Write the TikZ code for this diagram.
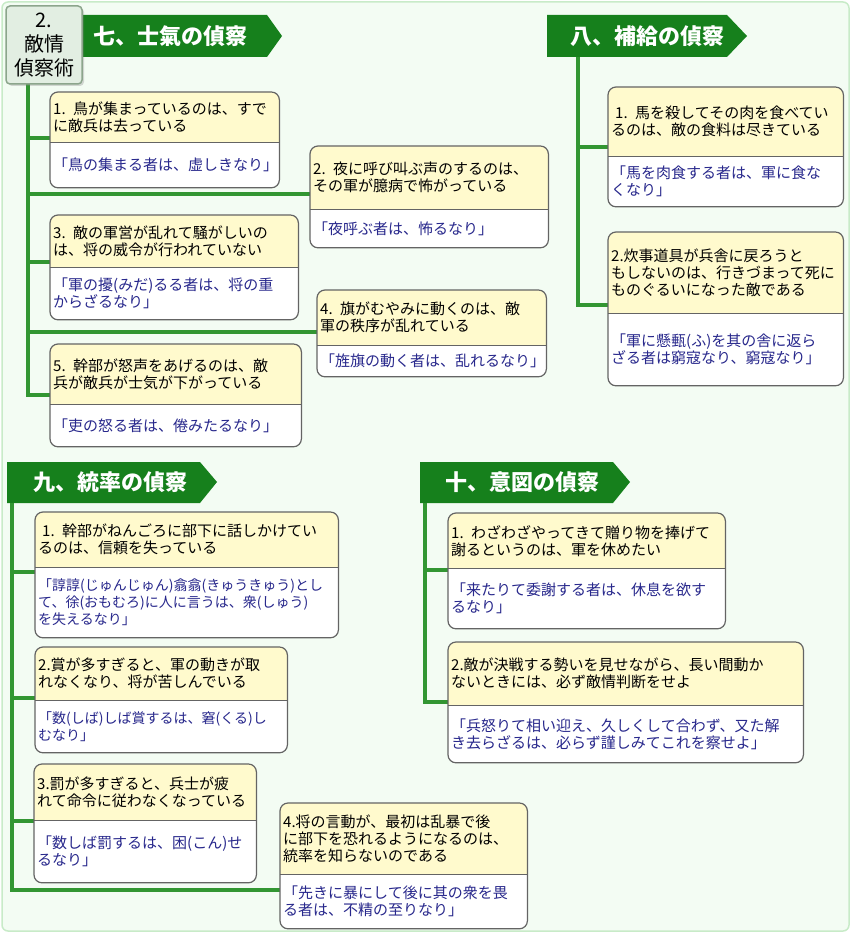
\documentclass[tikz,border=0pt]{standalone}
\usepackage{fontspec}
\newfontfamily\jp{Noto Sans CJK JP}
\usetikzlibrary{positioning,backgrounds,shadows}

\definecolor{pagebg}{RGB}{243,252,243}
\definecolor{pageedge}{RGB}{200,235,200}
\definecolor{bannergreen}{RGB}{22,128,28}
\definecolor{trunkgreen}{RGB}{50,150,50}
\definecolor{cellyellow}{RGB}{255,250,205}
\definecolor{quoteblue}{RGB}{40,40,140}
\definecolor{boxgray}{RGB}{100,100,100}
\definecolor{titlefill}{RGB}{226,238,226}
\definecolor{titleedge}{RGB}{140,165,140}

\tikzset{
  topcell/.style={anchor=north west, inner xsep=3pt, inner ysep=0pt, align=left, text=black, font=\jp\fontsize{15}{17}\selectfont},
  botcell/.style={inner xsep=3pt, inner ysep=0pt, align=left, text=quoteblue, font=\jp\fontsize{15}{17}\selectfont},
  boxline/.style={draw=boxgray, line width=1.2pt, rounded corners=8pt},
  sepline/.style={draw=boxgray, line width=0.9pt},
  trunk/.style={draw=trunkgreen, line width=4pt},
  bannerbg/.style={fill=bannergreen},
  bannertext/.style={anchor=west, inner sep=0pt, text=white, font=\jp\bfseries\fontsize{22}{24}\selectfont},
  titlebox/.style={draw=titleedge, fill=titlefill, line width=1.5pt, rounded corners=4pt, minimum width=76pt, minimum height=78pt, inner sep=0pt, align=center, font=\jp\fontsize{20}{24}\selectfont, drop shadow={shadow xshift=2pt, shadow yshift=-2pt, opacity=0.3}}
}

\begin{document}
\begin{tikzpicture}[x=1pt, y=-1pt]
\useasboundingbox (0,0) rectangle (851,933);

% headings
\node[bannertext] (b7) at (93,36) {七、士氣の偵察};
\node[bannertext] (b8) at (570,36) {八、補給の偵察};
\node[bannertext] (b9) at (33,482) {九、統率の偵察};
\node[bannertext] (b10) at (445,482) {十、意図の偵察};
\node[titlebox] (hdr) at (44,45) {2.\\敵情\\偵察術};

% 七
\node[topcell, minimum width=229pt, text width=223pt, minimum height=50pt] (n71) at (50,92) {1. 鳥が集まっているのは、すで\\に敵兵は去っている};
\node[botcell, minimum width=229pt, text width=223pt, minimum height=45pt, below=0pt of n71] (q71) {「鳥の集まる者は、虚しきなり」};
\node[topcell, minimum width=238pt, text width=232pt, minimum height=63pt] (n72) at (310,146) {2. 夜に呼び叫ぶ声のするのは、\\その軍が臆病で怖がっている};
\node[botcell, minimum width=238pt, text width=232pt, minimum height=38pt, below=0pt of n72] (q72) {「夜呼ぶ者は、怖るなり」};
\node[topcell, minimum width=248pt, text width=242pt, minimum height=52pt] (n73) at (50,215) {3. 敵の軍営が乱れて騒がしいの\\は、将の威令が行われていない};
\node[botcell, minimum width=248pt, text width=242pt, minimum height=52pt, below=0pt of n73] (q73) {「軍の擾(みだ)るる者は、将の重\\からざるなり」};
\node[topcell, minimum width=229pt, text width=223pt, minimum height=55pt] (n74) at (317,290) {4. 旗がむやみに動くのは、敵\\軍の秩序が乱れている};
\node[botcell, minimum width=229pt, text width=223pt, minimum height=31pt, below=0pt of n74] (q74) {「旌旗の動く者は、乱れるなり」};
\node[topcell, minimum width=251pt, text width=245pt, minimum height=60pt] (n75) at (50,344) {5. 幹部が怒声をあげるのは、敵\\兵が敵兵が士気が下がっている};
\node[botcell, minimum width=251pt, text width=245pt, minimum height=42pt, below=0pt of n75] (q75) {「吏の怒る者は、倦みたるなり」};

% 八
\node[topcell, minimum width=235pt, text width=229pt, minimum height=69pt] (n81) at (608,87) {\hspace*{4pt}1. 馬を殺してその肉を食べてい\\るのは、敵の食料は尽きている};
\node[botcell, minimum width=235pt, text width=229pt, minimum height=50pt, below=0pt of n81] (q81) {「馬を肉食する者は、軍に食な\\くなり」};
\node[topcell, minimum width=235pt, text width=229pt, minimum height=81pt] (n82) at (608,232) {2.炊事道具が兵舎に戻ろうと\\もしないのは、行きづまって死に\\ものぐるいになった敵である};
\node[botcell, minimum width=235pt, text width=229pt, minimum height=72pt, below=0pt of n82] (q82) {「軍に懸甀(ふ)を其の舎に返ら\\ざる者は窮寇なり、窮寇なり」};

% 九
\node[topcell, minimum width=303pt, text width=297pt, minimum height=55pt] (n91) at (35,512) {\hspace*{4pt}1. 幹部がねんごろに部下に話しかけてい\\るのは、信頼を失っている};
\node[botcell, minimum width=303pt, text width=297pt, minimum height=70pt, below=0pt of n91, font=\jp\fontsize{14}{17}\selectfont] (q91) {「諄諄(じゅんじゅん)翕翕(きゅうきゅう)とし\\て、徐(おもむろ)に人に言うは、衆(しゅう)\\を失えるなり」};
\node[topcell, minimum width=252pt, text width=246pt, minimum height=53pt] (n92) at (35,647) {2.賞が多すぎると、軍の動きが取\\れなくなり、将が苦しんでいる};
\node[botcell, minimum width=252pt, text width=246pt, minimum height=52pt, below=0pt of n92, font=\jp\fontsize{14}{17}\selectfont] (q92) {「数(しば)しば賞するは、窘(くる)し\\むなり」};
\node[topcell, minimum width=222pt, text width=216pt, minimum height=56pt] (n93) at (34,764) {3.罰が多すぎると、兵士が疲\\れて命令に従わなくなっている};
\node[botcell, minimum width=222pt, text width=216pt, minimum height=62pt, below=0pt of n93] (q93) {「数しば罰するは、困(こん)せ\\るなり」};
\node[topcell, minimum width=247pt, text width=241pt, minimum height=71pt] (n94) at (280,803) {4.将の言動が、最初は乱暴で後\\に部下を恐れるようになるのは、\\統率を知らないのである};
\node[botcell, minimum width=247pt, text width=241pt, minimum height=54pt, below=0pt of n94] (q94) {「先きに暴にして後に其の衆を畏\\る者は、不精の至りなり」};

% 十
\node[topcell, minimum width=277pt, text width=271pt, minimum height=55pt] (n101) at (448,513) {1. わざわざやってきて贈り物を捧げて\\謝るというのは、軍を休めたい};
\node[botcell, minimum width=277pt, text width=271pt, minimum height=60pt, below=0pt of n101] (q101) {「来たりて委謝する者は、休息を欲す\\るなり」};
\node[topcell, minimum width=355pt, text width=349pt, minimum height=63pt] (n102) at (448,642) {2.敵が決戦する勢いを見せながら、長い間動か\\ないときには、必ず敵情判断をせよ};
\node[botcell, minimum width=355pt, text width=349pt, minimum height=57pt, below=0pt of n102] (q102) {「兵怒りて相い迎え、久しくして合わず、又た解\\き去らざるは、必らず謹しみてこれを察せよ」};

\coordinate (t7) at (28,84);
\coordinate (t8) at (578,57);
\coordinate (t9) at (12,503);
\coordinate (t10) at (425,503);

\begin{scope}[on background layer]
\path[fill=pagebg, draw=pageedge, line width=1.5pt, rounded corners=6pt] (2,2) rectangle (849,931);
\fill[bannerbg] (68,15) -- (267,15) -- (282,36) -- (267,57) -- (68,57) -- cycle;
\fill[bannerbg] (547,15) -- (727,15) -- (747,36) -- (727,57) -- (547,57) -- cycle;
\fill[bannerbg] (7,462) -- (200,462) -- (217,482) -- (200,503) -- (7,503) -- cycle;
\fill[bannerbg] (420,462) -- (613,462) -- (630,482) -- (613,503) -- (420,503) -- cycle;

\draw[trunk] (t7) |- (n71.west |- 0,138);
\draw[trunk] (t7) |- (n72.west |- 0,194);
\draw[trunk] (t7) |- (n73.west |- 0,262);
\draw[trunk] (t7) |- (n74.west |- 0,332);
\draw[trunk] (t7) |- (n75.west |- 0,395);
\draw[trunk] (t8) |- (n81.west |- 0,147);
\draw[trunk] (t8) |- (n82.west |- 0,305);
\draw[trunk] (t9) |- (n91.west |- 0,572);
\draw[trunk] (t9) |- (n92.west |- 0,698);
\draw[trunk] (t9) |- (n93.west |- 0,821);
\draw[trunk] (t9) |- (n94.west |- 0,890);
\draw[trunk] (t10) |- (n101.west |- 0,570);
\draw[trunk] (t10) |- (n102.west |- 0,702);

\foreach \k in {71,72,73,74,75,81,82,91,92,93,94,101,102} {
  \fill[white, rounded corners=8pt] (n\k.north west) rectangle (q\k.south east);
  \fill[cellyellow, rounded corners=8pt] (n\k.south west) -- (n\k.north west) -- (n\k.north east) -- (n\k.south east);
}
\end{scope}

\foreach \k in {71,72,73,74,75,81,82,91,92,93,94,101,102} {
  \draw[boxline] (n\k.north west) rectangle (q\k.south east);
  \draw[sepline] (n\k.south west) -- (n\k.south east);
}
\end{tikzpicture}
\end{document}
